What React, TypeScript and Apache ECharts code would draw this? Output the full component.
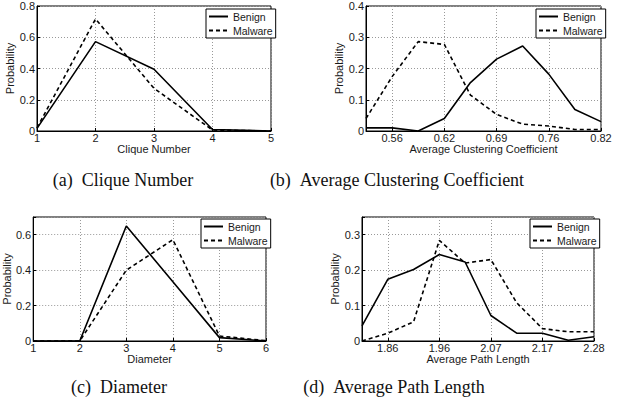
import React, { useEffect, useRef } from "react";
import * as echarts from "echarts";

// (a) Clique Number
const aX = [1, 2, 3, 4, 5];
const aBenign = [0.017, 0.572, 0.395, 0.01, 0.0];
const aMalware = [0.02, 0.717, 0.273, 0.006, 0.0];

// (b) Average Clustering Coefficient
const bCategories = ["0.53", "0.56", "0.59", "0.62", "0.66", "0.69", "0.72", "0.76", "0.79", "0.82"];
const bBenign = [0.01, 0.01, 0.0, 0.04, 0.155, 0.23, 0.272, 0.182, 0.069, 0.03];
const bMalware = [0.04, 0.174, 0.286, 0.277, 0.115, 0.053, 0.022, 0.016, 0.005, 0.005];

// (c) Diameter
const cX = [1, 2, 3, 4, 5, 6];
const cBenign = [0.0, 0.0, 0.649, 0.335, 0.019, 0.0];
const cMalware = [0.0, 0.0, 0.4, 0.572, 0.028, 0.002];

// (d) Average Path Length
const dCategories = ["1.81", "1.86", "1.91", "1.96", "2.02", "2.07", "2.12", "2.17", "2.23", "2.28"];
const dBenign = [0.043, 0.174, 0.202, 0.244, 0.223, 0.072, 0.022, 0.022, 0.002, 0.012];
const dMalware = [0.0, 0.022, 0.054, 0.284, 0.22, 0.23, 0.108, 0.035, 0.026, 0.026];

const captions = [
  "(a)\u00a0\u00a0Clique Number",
  "(b)\u00a0\u00a0Average Clustering Coefficient",
  "(c)\u00a0\u00a0Diameter",
  "(d)\u00a0\u00a0Average Path Length",
];
const xNames = ["Clique Number", "Average Clustering Coefficient", "Diameter", "Average Path Length"];
const seriesNames = ["Benign", "Malware"];

const TEXT = "#1a1a1a";
const FONT = "Liberation Sans";

export default function App() {
  const ref = useRef<HTMLDivElement>(null);
  useEffect(() => {
    if (!ref.current) return;
    const chart = echarts.init(ref.current, undefined, { renderer: "svg" });

    const grids = [
      { left: 37, top: 6, width: 234, height: 125 },
      { left: 366, top: 6, width: 235, height: 125 },
      { left: 32, top: 217, width: 234, height: 124 },
      { left: 362, top: 217, width: 232, height: 124 },
    ].map((g) => ({ ...g, show: true, borderColor: "#000", borderWidth: 1, backgroundColor: "#fff" }));

    const oddOnly = (idx: number) => idx % 2 === 1;
    const splitLine = { show: true, lineStyle: { type: [1, 2] as any, color: "#999", width: 1 } };
    const axisTick = { show: true, inside: true, length: 3, lineStyle: { color: "#000" } };
    const axisLine = { show: true, lineStyle: { color: "#000", width: 1 } };
    const labelStyle = { color: TEXT, fontSize: 11, fontFamily: FONT, margin: 1 };
    const nameStyle = { color: TEXT, fontSize: 11, fontFamily: FONT };

    const valueX = (i: number, min: number, max: number) => ({
      type: "value",
      gridIndex: i,
      min,
      max,
      interval: 1,
      name: xNames[i],
      nameLocation: "middle",
      nameGap: 11,
      nameTextStyle: nameStyle,
      axisLine,
      axisTick,
      splitLine,
      axisLabel: labelStyle,
    });
    const catX = (i: number, cats: string[]) => ({
      type: "category",
      gridIndex: i,
      data: cats,
      boundaryGap: false,
      name: xNames[i],
      nameLocation: "middle",
      nameGap: 11,
      nameTextStyle: nameStyle,
      axisLine,
      axisTick: { ...axisTick, interval: oddOnly, alignWithLabel: true },
      splitLine: { ...splitLine, interval: oddOnly },
      axisLabel: { ...labelStyle, interval: oddOnly },
    });
    const yAx = (i: number, max: number, interval: number) => ({
      type: "value",
      gridIndex: i,
      min: 0,
      max,
      interval,
      name: "Probability",
      nameLocation: "middle",
      nameGap: 18,
      nameTextStyle: nameStyle,
      axisLine,
      axisTick,
      splitLine,
      axisLabel: {
        ...labelStyle,
        margin: 2,
        formatter: (v: number) => {
          if (Math.abs(v - max) < 1e-9 && Math.abs(Math.round(v / interval) * interval - v) > 1e-9) return "";
          return v === 0 ? "0" : String(Math.round(v * 100) / 100);
        },
      },
    });

    const mk = (name: string, i: number, data: any[]) => ({
      type: "line",
      name,
      xAxisIndex: i,
      yAxisIndex: i,
      data,
      symbol: "none",
      lineStyle: {
        color: "#000",
        width: 1.6,
        type: name === "Benign" ? "solid" : ([4, 3] as any),
      },
      itemStyle: { color: "#000" },
      z: 3,
    });

    const pairs = (xs: number[], ys: number[]) => xs.map((x, k) => [x, ys[k]]);

    const legendPos = [
      { left: 206, top: 9 },
      { left: 536, top: 9 },
      { left: 201, top: 219 },
      { left: 530, top: 219 },
    ];
    const legends = legendPos.map((p) => ({
      ...p,
      orient: "vertical",
      data: seriesNames,
      itemWidth: 19,
      itemHeight: 9,
      itemGap: 3,
      padding: [2, 3, 2, 2],
      borderColor: "#000",
      borderWidth: 1,
      borderRadius: 0,
      backgroundColor: "#fff",
      selectedMode: false,
      itemStyle: { opacity: 0 },
      textStyle: { color: TEXT, fontSize: 10.5, fontFamily: FONT },
    }));

    const capPos = [
      { x: 123, y: 180 },
      { x: 397, y: 180 },
      { x: 119, y: 387 },
      { x: 394, y: 387 },
    ];

    chart.setOption({
      animation: false,
      backgroundColor: "#fff",
      grid: grids,
      legend: legends,
      xAxis: [valueX(0, 1, 5), catX(1, bCategories), valueX(2, 1, 6), catX(3, dCategories)],
      yAxis: [yAx(0, 0.8, 0.2), yAx(1, 0.4, 0.1), yAx(2, 0.7, 0.2), yAx(3, 0.35, 0.1)],
      series: [
        mk("Benign", 0, pairs(aX, aBenign)),
        mk("Malware", 0, pairs(aX, aMalware)),
        mk("Benign", 1, bBenign),
        mk("Malware", 1, bMalware),
        mk("Benign", 2, pairs(cX, cBenign)),
        mk("Malware", 2, pairs(cX, cMalware)),
        mk("Benign", 3, dBenign),
        mk("Malware", 3, dMalware),
      ],
      graphic: captions.map((t, i) => ({
        type: "text",
        x: capPos[i].x,
        y: capPos[i].y,
        style: {
          text: t,
          fill: "#111",
          fontSize: 18,
          fontFamily: "Liberation Serif",
          textAlign: "center",
          textVerticalAlign: "middle",
        },
      })),
    });
    return () => chart.dispose();
  }, []);
  return (
    <div
      ref={ref}
      style={{ position: "fixed", left: 0, top: 0, width: 628, height: 410, background: "#fff" }}
    />
  );
}
